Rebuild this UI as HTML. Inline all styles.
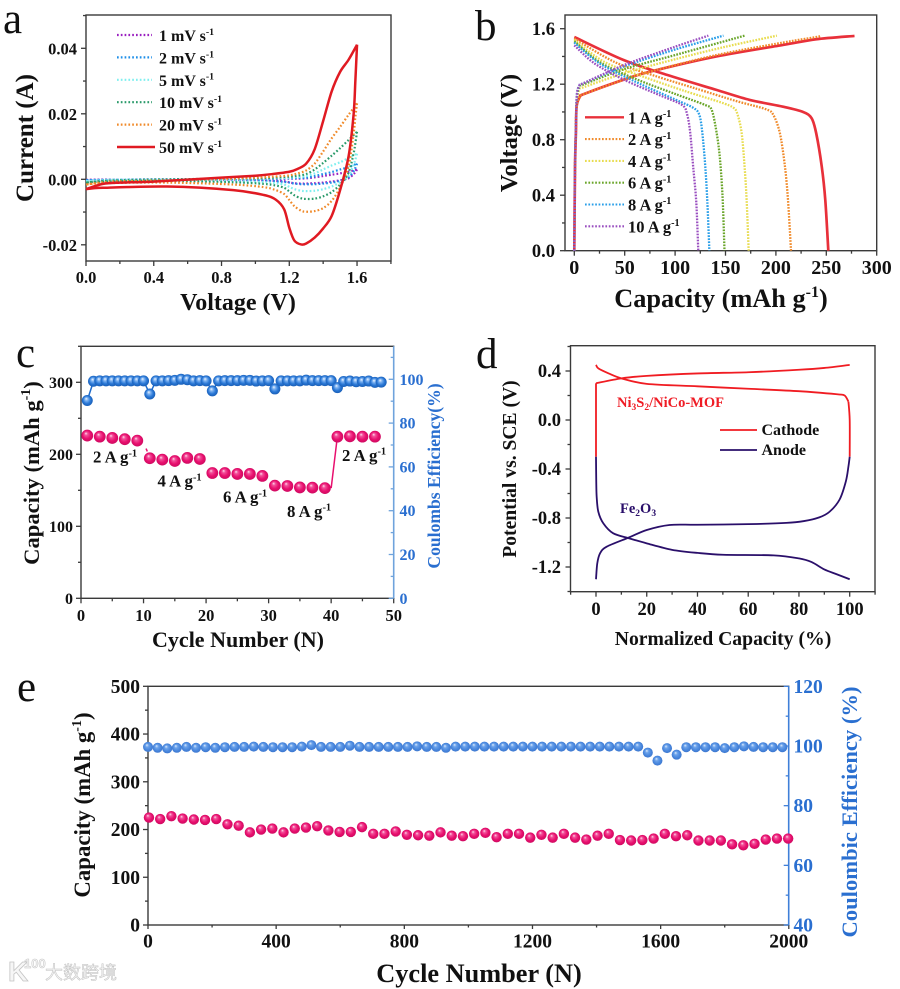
<!DOCTYPE html>
<html lang="en">
<head>
<meta charset="utf-8">
<title>Electrochemical performance figure</title>
<style>
html,body{margin:0;padding:0;background:#fff;}
svg{display:block;filter:blur(.35px);}
text{font-family:"Liberation Serif","Noto Serif CJK SC",serif;font-weight:bold;fill:#111;}
.letter{font-weight:normal;font-size:43px;}
.blue{fill:#2a6fd0;}
</style>
</head>
<body>
<svg id="figure" xmlns="http://www.w3.org/2000/svg" width="900" height="989" viewBox="0 0 900 989">
<defs>
<radialGradient id="pinkSphere" cx="50%" cy="50%" r="55%" fx="38%" fy="30%">
<stop offset="0" stop-color="#ffe3ee"/><stop offset=".25" stop-color="#f2509a"/><stop offset=".62" stop-color="#e80f6e"/><stop offset="1" stop-color="#c90a5e"/>
</radialGradient>
<radialGradient id="blueSphereC" cx="50%" cy="50%" r="55%" fx="40%" fy="32%">
<stop offset="0" stop-color="#f0f7ff"/><stop offset=".28" stop-color="#7ab0f0"/><stop offset=".62" stop-color="#2a78d6"/><stop offset="1" stop-color="#1659b0"/>
</radialGradient>
<radialGradient id="blueSphereE" cx="50%" cy="50%" r="55%" fx="38%" fy="30%">
<stop offset="0" stop-color="#e0edfd"/><stop offset=".3" stop-color="#6ba2ea"/><stop offset=".65" stop-color="#4a88de"/><stop offset="1" stop-color="#3a74cc"/>
</radialGradient>
</defs>

<g id="panel-a">
<text class="letter" x="3" y="33">a</text>
<text x="238" y="310" font-size="24" text-anchor="middle">Voltage (V)</text>
<text transform="translate(33,138) rotate(-90)" font-size="25" text-anchor="middle">Current (A)</text>
</g>

<g id="panel-b">
<text class="letter" x="475" y="40">b</text>
<text x="721" y="307" font-size="26.3" text-anchor="middle">Capacity (mAh g<tspan dy="-10" font-size="16">-1</tspan><tspan dy="10">)</tspan></text>
<text transform="translate(517,133) rotate(-90)" font-size="24.5" text-anchor="middle">Voltage (V)</text>
</g>

<g id="panel-c">
<text class="letter" x="16" y="367">c</text>
<text x="238" y="647" font-size="22" text-anchor="middle">Cycle Number (N)</text>
<text transform="translate(39,473) rotate(-90)" font-size="22.6" text-anchor="middle">Capacity (mAh g<tspan dy="-9" font-size="14">-1</tspan><tspan dy="9">)</tspan></text>
<text class="blue" transform="translate(440,476) rotate(-90)" font-size="17.6" text-anchor="middle">Coulombs Efficiency(%)</text>
</g>

<g id="panel-d">
<text class="letter" x="476" y="368">d</text>
<text x="723" y="645" font-size="19.7" text-anchor="middle">Normalized Capacity (%)</text>
<text transform="translate(516,469) rotate(-90)" font-size="19.6" text-anchor="middle">Potential vs. SCE (V)</text>
<text x="617" y="407" font-size="14.5" style="fill:#ef1c25">Ni<tspan dy="3" font-size="9.5">3</tspan><tspan dy="-3">S</tspan><tspan dy="3" font-size="9.5">2</tspan><tspan dy="-3">/NiCo-MOF</tspan></text>
<text x="620" y="513" font-size="14.5" style="fill:#2a0f6a">Fe<tspan dy="3" font-size="9.5">2</tspan><tspan dy="-3">O</tspan><tspan dy="3" font-size="9.5">3</tspan></text>
</g>

<g id="panel-e">
<text class="letter" x="17" y="701">e</text>
<text x="479" y="982" font-size="26.3" text-anchor="middle">Cycle Number (N)</text>
<text transform="translate(90,805) rotate(-90)" font-size="22.8" text-anchor="middle">Capacity (mAh g<tspan dy="-9" font-size="14">-1</tspan><tspan dy="9">)</tspan></text>
<text class="blue" transform="translate(857,812) rotate(-90)" font-size="22.6" text-anchor="middle">Coulombic Efficiency (%)</text>
</g>

<g id="watermark" opacity=".8">
<text x="8" y="981" font-size="28" style="fill:#f4f4f4;stroke:#b5b5b5;stroke-width:.8;font-family:'Liberation Sans',sans-serif">K</text>
<text x="24" y="968" font-size="13" style="fill:#f4f4f4;stroke:#b5b5b5;stroke-width:.5;font-family:'Liberation Sans',sans-serif">100</text>
<text x="45" y="979" font-size="18" style="fill:#f2f2f2;stroke:#b0b0b0;stroke-width:.5;font-weight:normal;font-family:'Noto Sans CJK SC',sans-serif">大数跨境</text>
</g>
</svg>

<script>
/* ---------- Panel a data ---------- */
const cvLabels = ['1 mV s', '2 mV s', '5 mV s', '10 mV s', '20 mV s', '50 mV s'];
const cvForwardV = [0, .1, .2, .4, .8, 1, 1.1, 1.2, 1.25, 1.3, 1.35, 1.4, 1.45, 1.5, 1.55, 1.6];
const cvBackwardV = [1.6, 1.59, 1.58, 1.55, 1.5, 1.45, 1.4, 1.35, 1.3, 1.27, 1.23, 1.2, 1.17, 1.12, 1.05, .87, .48, .1, 0];
const cv1Forward = [-.0002, -.0001, -.0001, 0, 0, .0001, .0001, .0002, .0002, .0003, .0006, .001, .0014, .0018, .0023, .003];
const cv1Backward = [.003, .0022, .0016, .0003, -.0003, -.0007, -.001, -.0012, -.0013, -.0013, -.0012, -.0009, -.0006, -.0005, -.0003, -.0002, -.0001, -.0001, -.0002];
const cv2Forward = [-.0003, -.0002, -.0001, 0, .0001, .0001, .0002, .0003, .0004, .0005, .001, .0016, .0022, .003, .0037, .0048];
const cv2Backward = [.0048, .0035, .0025, .0006, -.0005, -.001, -.0013, -.0015, -.0015, -.0015, -.0013, -.001, -.0008, -.0006, -.0004, -.0003, -.0002, -.0002, -.0003];
const cv5Forward = [-.0006, -.0003, -.0001, 0, .0001, .0002, .0003, .0005, .0007, .001, .0018, .003, .0042, .0052, .0065, .0078];
const cv5Backward = [.0078, .006, .0045, .0012, -.0009, -.0022, -.003, -.0035, -.0036, -.0035, -.003, -.0023, -.0016, -.0012, -.0009, -.0006, -.0003, -.0004, -.0006];
const cv10Forward = [-.001, -.0005, -.0003, -.0001, .0002, .0003, .0005, .0008, .0011, .0016, .003, .005, .0072, .0095, .012, .0145];
const cv10Backward = [.0145, .011, .008, .002, -.0016, -.0039, -.0052, -.0059, -.006, -.0058, -.0049, -.0037, -.0026, -.0019, -.0014, -.0009, -.0005, -.0007, -.001];
const cv20Forward = [-.0016, -.0009, -.0006, -.0004, .0001, .0005, .0008, .0012, .0018, .0027, .0048, .0085, .0125, .016, .0197, .0232];
const cv20Backward = [.0232, .019, .014, .004, -.0025, -.0066, -.0088, -.0097, -.0099, -.0096, -.0082, -.0063, -.0045, -.0033, -.0024, -.0016, -.001, -.0012, -.0016];
const cv50Forward = [-.003, -.0014, -.001, -.0007, .0005, .0011, .0016, .0023, .0032, .0048, .0092, .0178, .0268, .0328, .0365, .0411];
const cv50Backward = [.0411, .03, .02, .007, -.0033, -.0112, -.015, -.0178, -.0196, -.0199, -.0187, -.0148, -.0092, -.0062, -.0048, -.0033, -.0022, -.0026, -.003];
const aXTicks = [0, .4, .8, 1.2, 1.6];
const aXLabels = ['0.0', '0.4', '0.8', '1.2', '1.6'];
const aXMinor = [.2, .6, 1, 1.4, 1.8];
const aYTicks = [-.02, 0, .02, .04];
const aYLabels = ['-0.02', '0.00', '0.02', '0.04'];
const aYMinor = [-.01, .01, .03, .05];

/* ---------- Panel b data ---------- */
const gcdLabels = ['1 A g', '2 A g', '4 A g', '6 A g', '8 A g', '10 A g'];
const charge1Cap = [0, .7, 1.6, 2.3, 5.6, 10, 50, 75, 141, 207, 240, 278];
const charge1V = [0, .6, .85, 1.04, 1.11, 1.13, 1.235, 1.29, 1.4, 1.483, 1.524, 1.548];
const discharge1Cap = [0, 48.6, 92, 141, 174, 207, 227, 235.5, 240, 245.5, 249, 252];
const discharge1V = [1.54, 1.375, 1.267, 1.159, 1.087, 1.038, 1, .954, .846, .606, .365, 0];
const charge2Cap = [0, .7, 1.6, 2.3, 5.6, 10, 50, 75, 141, 207, 240, 245];
const charge2V = [0, .6, .85, 1.04, 1.11, 1.13, 1.235, 1.29, 1.41, 1.5, 1.54, 1.55];
const discharge2Cap = [0, 40, 80, 120, 160, 190, 197.5, 204, 209, 212, 215];
const discharge2V = [1.53, 1.36, 1.26, 1.17, 1.08, 1.02, .978, .846, .606, .365, 0];
const charge4Cap = [0, .7, 1.6, 2.5, 5, 10, 50, 100, 150, 201];
const charge4V = [0, .6, .9, 1.08, 1.16, 1.18, 1.28, 1.38, 1.47, 1.55];
const discharge4Cap = [0, 30, 70, 110, 145, 158, 162, 166, 169, 171, 173];
const discharge4V = [1.52, 1.36, 1.25, 1.15, 1.07, 1.03, .98, .85, .6, .36, 0];
const charge6Cap = [0, .7, 1.6, 2.5, 5, 10, 50, 100, 169];
const charge6V = [0, .6, .9, 1.1, 1.18, 1.2, 1.31, 1.41, 1.55];
const discharge6Cap = [0, 25, 60, 100, 130, 136, 140, 144, 147, 149];
const discharge6V = [1.51, 1.36, 1.24, 1.13, 1.05, 1.02, .9, .7, .4, 0];
const charge8Cap = [0, .7, 1.6, 2.5, 5, 10, 50, 100, 148];
const charge8V = [0, .6, .9, 1.12, 1.19, 1.21, 1.33, 1.45, 1.55];
const discharge8Cap = [0, 25, 60, 100, 118, 124, 127, 130, 132, 134];
const discharge8V = [1.5, 1.35, 1.22, 1.09, 1.03, .98, .85, .6, .35, 0];
const charge10Cap = [0, .7, 1.6, 2.5, 5, 10, 50, 100, 133];
const charge10V = [0, .6, .9, 1.12, 1.19, 1.21, 1.34, 1.47, 1.55];
const discharge10Cap = [0, 20, 50, 85, 107, 112, 115, 118, 121, 123];
const discharge10V = [1.48, 1.35, 1.23, 1.12, 1.05, .98, .85, .6, .35, 0];
const bXTicks = [0, 50, 100, 150, 200, 250, 300];
const bXLabels = ['0', '50', '100', '150', '200', '250', '300'];
const bXMinor = [25, 75, 125, 175, 225, 275];
const bYTicks = [0, .4, .8, 1.2, 1.6];
const bYLabels = ['0.0', '0.4', '0.8', '1.2', '1.6'];
const bYMinor = [.2, .6, 1, 1.4];

/* ---------- Panel c data ---------- */
const rateCycles = [1, 3, 5, 7, 9, 11, 13, 15, 17, 19, 21, 23, 25, 27, 29, 31, 33, 35, 37, 39, 41, 43, 45, 47];
const rateCapacity = [226, 224.5, 222.7, 221, 219, 194.5, 192.6, 190.7, 195, 193.5, 174, 174, 172.7, 172.7, 170, 156.5, 156, 154, 153.7, 153, 224.5, 225, 224.5, 224.5];
const effCycles = [1, 2, 3, 4, 5, 6, 7, 8, 9, 10, 11, 12, 13, 14, 15, 16, 17, 18, 19, 20, 21, 22, 23, 24, 25, 26, 27, 28, 29, 30, 31, 32, 33, 34, 35, 36, 37, 38, 39, 40, 41, 42, 43, 44, 45, 46, 47, 48];
const effValues = [90.3, 99.1, 99.3, 99.3, 99.3, 99.3, 99.3, 99.3, 99.3, 99.3, 93.3, 99.3, 99.3, 99.4, 99.5, 100, 99.8, 99.3, 99.4, 99.3, 94.7, 99.3, 99.4, 99.4, 99.4, 99.5, 99.5, 99.2, 99.3, 99.4, 95.6, 99.3, 99.3, 99.3, 99.3, 99.6, 99.4, 99.4, 99.4, 99.4, 96.2, 99, 99.2, 98.9, 99, 99.2, 98.6, 98.7];
const jumpCycles = [40, 41];
const jumpCapacity = [153, 225];
const stubCycles = [10.4, 10.6];
const stubCapacity = [208, 204];
const cXTicks = [0, 10, 20, 30, 40, 50];
const cXLabels = ['0', '10', '20', '30', '40', '50'];
const cXMinor = [5, 15, 25, 35, 45];
const cLeftTicks = [0, 100, 200, 300];
const cLeftLabels = ['0', '100', '200', '300'];
const cLeftMinor = [50, 150, 250, 350];
const cRightTicks = [0, 20, 40, 60, 80, 100];
const cRightLabels = ['0', '20', '40', '60', '80', '100'];
const cRightMinor = [10, 30, 50, 70, 90, 110];
const rateAnnotations = ['2 A g', '4 A g', '6 A g', '8 A g', '2 A g'];

/* ---------- Panel d data ---------- */
const cathodeRiseCap = [0, 0];
const cathodeRiseV = [-.3, .3];
const cathodeChargeCap = [0, 10, 20, 40, 60, 80, 90, 100];
const cathodeChargeV = [.3, .34, .36, .38, .39, .41, .425, .45];
const cathodeDischargeCap = [0, 1, 5, 10, 20, 40, 60, 80, 95, 98, 99.5];
const cathodeDischargeV = [.45, .42, .38, .34, .295, .275, .255, .235, .21, .2, .15];
const cathodeFallCap = [99.5, 100, 100];
const cathodeFallV = [.15, 0, -.3];
const anodeDownCap = [0, .1, .26, .9, 2.9, 6.8, 13.1, 20, 30, 40, 50, 70, 80, 85, 90, 95, 100];
const anodeDownV = [-.3, -.5, -.626, -.748, -.844, -.925, -.966, -1.007, -1.06, -1.085, -1.1, -1.105, -1.13, -1.16, -1.22, -1.26, -1.3];
const anodeUpCap = [0, .5, 1.6, 4.2, 13.1, 20, 29, 40, 60, 75, 82, 88, 92, 96, 98.5, 99.5, 100];
const anodeUpV = [-1.3, -1.17, -1.088, -1.034, -.958, -.898, -.857, -.855, -.85, -.84, -.825, -.795, -.75, -.65, -.5, -.38, -.3];
const dLegendLabels = ['Cathode', 'Anode'];
const dXTicks = [0, 20, 40, 60, 80, 100];
const dXLabels = ['0', '20', '40', '60', '80', '100'];
const dXMinor = [-10, 10, 30, 50, 70, 90, 110];
const dYTicks = [.4, 0, -.4, -.8, -1.2];
const dYLabels = ['0.4', '0.0', '-0.4', '-0.8', '-1.2'];
const dYMinor = [.6, .2, -.2, -.6, -1, -1.4];

/* ---------- Panel e data ---------- */
const longCapCycles = [3, 38, 73, 108, 143, 178, 213, 248, 283, 318, 353, 388, 423, 458, 493, 528, 563, 598, 633, 668, 703, 738, 773, 808, 843, 878, 913, 948, 983, 1018, 1053, 1088, 1123, 1158, 1193, 1228, 1263, 1298, 1333, 1368, 1403, 1438, 1473, 1508, 1543, 1578, 1613, 1648, 1683, 1718, 1753, 1788, 1823, 1858, 1893, 1928, 1963, 1998];
const longCapacity = [225, 222, 228, 223, 221, 220, 222, 211, 208, 194, 200, 202, 194, 202, 204, 207, 198, 195, 195, 205, 191, 191, 196, 189, 188, 187, 194, 187, 186, 191, 193, 184, 191, 191, 183, 189, 183, 191, 183, 179, 187, 191, 178, 177, 178, 181, 191, 186, 188, 177, 177, 177, 169, 167, 170, 179, 181, 181];
const longEffCycles = [0, 30, 60, 90, 120, 150, 180, 210, 240, 270, 300, 330, 360, 390, 420, 450, 480, 510, 540, 570, 600, 630, 660, 690, 720, 750, 780, 810, 840, 870, 900, 930, 960, 990, 1020, 1050, 1080, 1110, 1140, 1170, 1200, 1230, 1260, 1290, 1320, 1350, 1380, 1410, 1440, 1470, 1500, 1530, 1560, 1590, 1620, 1650, 1680, 1710, 1740, 1770, 1800, 1830, 1860, 1890, 1920, 1950, 1980];
const longEfficiency = [99.7, 99.4, 99.2, 99.4, 99.7, 99.4, 99.6, 99.4, 99.6, 99.7, 99.7, 99.8, 99.7, 99.6, 99.6, 99.6, 99.8, 100.3, 99.7, 99.7, 99.7, 100.1, 99.7, 99.7, 99.7, 99.7, 99.7, 99.7, 99.9, 99.7, 99.7, 99.4, 99.8, 99.8, 99.8, 99.8, 99.8, 99.8, 99.8, 99.8, 99.8, 99.8, 99.8, 99.8, 99.8, 99.8, 99.8, 99.8, 99.8, 99.8, 99.8, 99.8, 97.8, 95.1, 99.3, 97.1, 99.6, 99.6, 99.6, 99.6, 99.3, 99.6, 99.9, 99.7, 99.6, 99.6, 99.6];
const eXTicks = [0, 400, 800, 1200, 1600, 2000];
const eXLabels = ['0', '400', '800', '1200', '1600', '2000'];
const eXMinor = [200, 600, 1000, 1400, 1800];
const eLeftTicks = [0, 100, 200, 300, 400, 500];
const eLeftLabels = ['0', '100', '200', '300', '400', '500'];
const eLeftMinor = [50, 150, 250, 350, 450];
const eRightTicks = [40, 60, 80, 100, 120];
const eRightLabels = ['40', '60', '80', '100', '120'];
const eRightMinor = [50, 70, 90, 110];

/* ---------- helpers ---------- */
const NS = 'http://www.w3.org/2000/svg';
function mk(tag, attrs, parent, txt) {
  const n = document.createElementNS(NS, tag);
  for (const k in attrs) n.setAttribute(k, attrs[k]);
  if (txt !== undefined) n.textContent = txt;
  parent.appendChild(n);
  return n;
}
function smoothPath(xs, ys, sx, sy) {
  const p = xs.map((x, i) => [sx(x), sy(ys[i])]);
  let d = 'M' + p[0][0].toFixed(2) + ' ' + p[0][1].toFixed(2);
  for (let i = 0; i < p.length - 1; i++) {
    const a = p[Math.max(i - 1, 0)], b = p[i], c = p[i + 1], e = p[Math.min(i + 2, p.length - 1)];
    const c1x = b[0] + (c[0] - a[0]) / 6.5, c1y = b[1] + (c[1] - a[1]) / 6.5;
    const c2x = c[0] - (e[0] - b[0]) / 6.5, c2y = c[1] - (e[1] - b[1]) / 6.5;
    d += 'C' + c1x.toFixed(2) + ' ' + c1y.toFixed(2) + ' ' + c2x.toFixed(2) + ' ' + c2y.toFixed(2) + ' ' + c[0].toFixed(2) + ' ' + c[1].toFixed(2);
  }
  return d;
}
function drawCurve(parent, xs, ys, sx, sy, color, width, dash, name) {
  const attrs = {d: smoothPath(xs, ys, sx, sy), fill: 'none', stroke: color, 'stroke-width': width, 'stroke-linejoin': 'round'};
  if (dash) attrs['stroke-dasharray'] = dash;
  const c = mk('path', attrs, parent);
  
  
  return c;
}
function drawFrame(parent, name, x0, y0, x1, y1) {
  const r = mk('rect', {x: x0, y: y0, width: x1 - x0, height: y1 - y0, fill: 'none', stroke: '#3a3a3a', 'stroke-width': 1.4}, parent);
  
  
}
function drawTicks(parent, name, axis, scale, pos, dir, vals, len, color) {
  vals.forEach(v => {
    const c = scale(v);
    const attrs = axis === 'x'
      ? {x1: c, x2: c, y1: pos, y2: pos + dir * len, stroke: color, 'stroke-width': 1.3}
      : {y1: c, y2: c, x1: pos, x2: pos + dir * len, stroke: color, 'stroke-width': 1.3};
    const t = mk('line', attrs, parent);
    
    
  });
}
function drawXLabels(parent, name, scale, base, vals, labels, size, color) {
  vals.forEach((v, i) => {
    const t = mk('text', {x: scale(v), y: base, 'font-size': size, 'text-anchor': 'middle', style: 'fill:' + color}, parent, labels[i]);
    
    
  });
}
function drawYLabels(parent, name, scale, xPos, anchor, vals, labels, size, color, dy) {
  vals.forEach((v, i) => {
    const t = mk('text', {x: xPos, y: scale(v) + dy, 'font-size': size, 'text-anchor': anchor, style: 'fill:' + color}, parent, labels[i]);
    
    
  });
}
function drawSupLabel(parent, name, x, y, size, label) {
  const t = mk('text', {x: x, y: y, 'font-size': size}, parent, label);
  const s = mk('tspan', {dy: -size * .38, 'font-size': size * .62}, t, '-1');
  
  
  return s;
}
function drawSpheres(parent, name, xs, ys, sx, sy, r, fill) {
  xs.forEach((x, i) => {
    const c = mk('circle', {cx: sx(x), cy: sy(ys[i]), r: r, fill: fill}, parent);
    
    
  });
}
const INK = '#111';
const AXIS = '#3a3a3a';

/* ---------- Panel a ---------- */
(function () {
  const g = document.getElementById('panel-a');
  const sx = v => 86 + v * 169.4;
  const sy = i => 179.3 - i * 3275;
  drawFrame(g, 'panel-a', 86, 15, 391, 261);
  drawTicks(g, 'x-major-tick', 'x', sx, 261, 1, aXTicks, 5, AXIS);
  drawTicks(g, 'x-minor-tick', 'x', sx, 261, 1, aXMinor, 3, AXIS);
  drawTicks(g, 'y-major-tick', 'y', sy, 86, -1, aYTicks, 5, AXIS);
  drawTicks(g, 'y-minor-tick', 'y', sy, 86, -1, aYMinor, 3, AXIS);
  drawXLabels(g, 'x-tick-label', sx, 283, aXTicks, aXLabels, 16.5, INK);
  drawYLabels(g, 'y-tick-label', sy, 77, 'end', aYTicks, aYLabels, 16.5, INK, 6);
  const forward = [cv1Forward, cv2Forward, cv5Forward, cv10Forward, cv20Forward, cv50Forward];
  const backward = [cv1Backward, cv2Backward, cv5Backward, cv10Backward, cv20Backward, cv50Backward];
  const colors = ['#9a1fc0', '#1f8fe8', '#7fefef', '#2a9a6a', '#f08a2a', '#e01a22'];
  forward.forEach((f, i) => {
    const solid = i === 5;
    drawCurve(g, cvForwardV, f, sx, sy, colors[i], solid ? 2.5 : 2.2, solid ? null : '1.7 2.1', 'cv-forward-sweep');
    drawCurve(g, cvBackwardV, backward[i], sx, sy, colors[i], solid ? 2.5 : 2.2, solid ? null : '1.7 2.1', 'cv-backward-sweep');
    const ly = 35 + i * 22.4;
    const l = mk('line', {x1: 117, x2: solid ? 155 : 152, y1: ly, y2: ly, stroke: colors[i], 'stroke-width': solid ? 2.4 : 2.2, 'stroke-dasharray': solid ? 'none' : '1.7 2.1'}, g);
    
    
    drawSupLabel(g, 'legend-label', 159, ly + 6, 16, cvLabels[i]);
  });
})();

/* ---------- Panel b ---------- */
(function () {
  const g = document.getElementById('panel-b');
  const sx = c => 574.3 + c * 1.008;
  const sy = v => 250.7 - v * 138.75;
  drawFrame(g, 'panel-b', 565, 15, 876.7, 250.7);
  drawTicks(g, 'x-major-tick', 'x', sx, 250.7, 1, bXTicks, 5, AXIS);
  drawTicks(g, 'x-minor-tick', 'x', sx, 250.7, 1, bXMinor, 3, AXIS);
  drawTicks(g, 'y-major-tick', 'y', sy, 565, -1, bYTicks, 5, AXIS);
  drawTicks(g, 'y-minor-tick', 'y', sy, 565, -1, bYMinor, 3, AXIS);
  drawXLabels(g, 'x-tick-label', sx, 274, bXTicks, bXLabels, 20, INK);
  drawYLabels(g, 'y-tick-label', sy, 555, 'end', bYTicks, bYLabels, 18.5, INK, 6.5);
  const colors = ['#e8303a', '#f08a2a', '#e8dc50', '#6aa52a', '#2a9fe8', '#9a4fc0'];
  const charges = [[charge1Cap, charge1V], [charge2Cap, charge2V], [charge4Cap, charge4V], [charge6Cap, charge6V], [charge8Cap, charge8V], [charge10Cap, charge10V]];
  const discharges = [[discharge1Cap, discharge1V], [discharge2Cap, discharge2V], [discharge4Cap, discharge4V], [discharge6Cap, discharge6V], [discharge8Cap, discharge8V], [discharge10Cap, discharge10V]];
  charges.forEach((c, i) => {
    const solid = i === 0;
    drawCurve(g, c[0], c[1], sx, sy, colors[i], solid ? 2.7 : 2.3, solid ? null : '1.7 1.3', 'charge-curve');
    drawCurve(g, discharges[i][0], discharges[i][1], sx, sy, colors[i], solid ? 2.7 : 2.3, solid ? null : '1.7 1.3', 'discharge-curve');
    const ly = 117.3 + i * 21.8;
    const l = mk('line', {x1: 585, x2: 624, y1: ly, y2: ly, stroke: colors[i], 'stroke-width': solid ? 2.4 : 2.1, 'stroke-dasharray': solid ? 'none' : '1.7 1.7'}, g);
    
    
    drawSupLabel(g, 'legend-label', 628, ly + 6, 16.5, gcdLabels[i]);
  });
})();

/* ---------- Panel c ---------- */
(function () {
  const g = document.getElementById('panel-c');
  const sx = n => 81 + n * 6.254;
  const syL = v => 598.3 - v * .72;
  const syR = v => 598.3 - v * 2.19;
  drawFrame(g, 'panel-c', 81, 346.3, 393.7, 598.3);
  const right = mk('line', {x1: 393.7, x2: 393.7, y1: 346.3, y2: 598.3, stroke: '#6fa3dc', 'stroke-width': 1.6}, g);
  
  
  drawTicks(g, 'x-major-tick', 'x', sx, 598.3, 1, cXTicks, 5, AXIS);
  drawTicks(g, 'x-minor-tick', 'x', sx, 598.3, 1, cXMinor, 3, AXIS);
  drawTicks(g, 'left-major-tick', 'y', syL, 81, -1, cLeftTicks, 5, AXIS);
  drawTicks(g, 'left-minor-tick', 'y', syL, 81, -1, cLeftMinor, 3, AXIS);
  drawTicks(g, 'right-major-tick', 'y', syR, 393.7, -1, cRightTicks, 5, '#6fa3dc');
  drawTicks(g, 'right-minor-tick', 'y', syR, 393.7, -1, cRightMinor, 3, '#6fa3dc');
  drawXLabels(g, 'x-tick-label', sx, 621, cXTicks, cXLabels, 16.5, INK);
  drawYLabels(g, 'left-tick-label', syL, 73, 'end', cLeftTicks, cLeftLabels, 16, INK, 5.5);
  drawYLabels(g, 'right-tick-label', syR, 399.5, 'start', cRightTicks, cRightLabels, 16, '#2a6fd0', 5.5);
  const pts = effCycles.map((c, i) => sx(c).toFixed(2) + ',' + syR(effValues[i]).toFixed(2)).join(' ');
  const pl = mk('polyline', {points: pts, fill: 'none', stroke: '#1f6ccc', 'stroke-width': 1.5}, g);
  
  
  drawSpheres(g, 'efficiency-point', effCycles, effValues, sx, syR, 5.5, 'url(#blueSphereC)');
  drawCurve(g, jumpCycles, jumpCapacity, sx, syL, '#e80f6e', 1.5, null, 'capacity-recovery-line');
  drawCurve(g, stubCycles, stubCapacity, sx, syL, '#e80f6e', 1.5, null, 'capacity-step-line');
  drawSpheres(g, 'capacity-point', rateCycles, rateCapacity, sx, syL, 5.9, 'url(#pinkSphere)');
  const ax = [93, 157.5, 223, 287, 342];
  const ay = [462.7, 486.7, 502.7, 517, 461];
  rateAnnotations.forEach((label, i) => {
    drawSupLabel(g, 'rate-annotation', ax[i], ay[i], 16.8, label);
  });
})();

/* ---------- Panel d ---------- */
(function () {
  const g = document.getElementById('panel-d');
  const sx = c => 596 + c * 2.537;
  const sy = v => 420 - v * 122.5;
  drawFrame(g, 'panel-d', 570.5, 345.7, 875, 591.7);
  drawTicks(g, 'x-major-tick', 'x', sx, 591.7, 1, dXTicks, 5, AXIS);
  drawTicks(g, 'x-minor-tick', 'x', sx, 591.7, 1, dXMinor, 3, AXIS);
  drawTicks(g, 'y-major-tick', 'y', sy, 570.5, -1, dYTicks, 5, AXIS);
  drawTicks(g, 'y-minor-tick', 'y', sy, 570.5, -1, dYMinor, 3, AXIS);
  drawXLabels(g, 'x-tick-label', sx, 615, dXTicks, dXLabels, 18.5, INK);
  drawYLabels(g, 'y-tick-label', sy, 561, 'end', dYTicks, dYLabels, 18.5, INK, 6);
  const red = '#f01c22', navy = '#2a0f6a';
  drawCurve(g, cathodeRiseCap, cathodeRiseV, sx, sy, red, 1.8, null, 'cathode-rise-segment');
  drawCurve(g, cathodeChargeCap, cathodeChargeV, sx, sy, red, 1.8, null, 'cathode-charge-curve');
  drawCurve(g, cathodeDischargeCap, cathodeDischargeV, sx, sy, red, 1.8, null, 'cathode-discharge-curve');
  drawCurve(g, cathodeFallCap, cathodeFallV, sx, sy, red, 1.8, null, 'cathode-fall-segment');
  drawCurve(g, anodeDownCap, anodeDownV, sx, sy, navy, 1.8, null, 'anode-charge-curve');
  drawCurve(g, anodeUpCap, anodeUpV, sx, sy, navy, 1.8, null, 'anode-discharge-curve');
  dLegendLabels.forEach((label, i) => {
    const ly = 430 + i * 20;
    const l = mk('line', {x1: 720, x2: 757, y1: ly, y2: ly, stroke: i ? navy : red, 'stroke-width': 1.8}, g);
    
    
    const t = mk('text', {x: 761.5, y: ly + 5, 'font-size': 16}, g, label);
    
    
  });
})();

/* ---------- Panel e ---------- */
(function () {
  const g = document.getElementById('panel-e');
  const sx = n => 148 + n * .3204;
  const syL = v => 925 - v * .4774;
  const syR = v => 925 - (v - 40) * 2.983;
  drawFrame(g, 'panel-e', 148, 686.3, 788.7, 925);
  const right = mk('line', {x1: 788.7, x2: 788.7, y1: 686.3, y2: 925, stroke: '#3f7fd8', 'stroke-width': 1.6}, g);
  
  
  drawTicks(g, 'x-major-tick', 'x', sx, 925, 1, eXTicks, 4, AXIS);
  drawTicks(g, 'x-minor-tick', 'x', sx, 925, 1, eXMinor, 2.5, AXIS);
  drawTicks(g, 'left-major-tick', 'y', syL, 148, -1, eLeftTicks, 5, AXIS);
  drawTicks(g, 'left-minor-tick', 'y', syL, 148, -1, eLeftMinor, 3, AXIS);
  drawTicks(g, 'right-major-tick', 'y', syR, 788.7, -1, eRightTicks, 5, '#3f7fd8');
  drawTicks(g, 'right-minor-tick', 'y', syR, 788.7, -1, eRightMinor, 3, '#3f7fd8');
  drawXLabels(g, 'x-tick-label', sx, 947.5, eXTicks, eXLabels, 19.5, INK);
  drawYLabels(g, 'left-tick-label', syL, 140, 'end', eLeftTicks, eLeftLabels, 19.5, INK, 6.5);
  drawYLabels(g, 'right-tick-label', syR, 793.5, 'start', eRightTicks, eRightLabels, 19.5, '#2a6fd0', 6.5);
  drawSpheres(g, 'efficiency-point', longEffCycles, longEfficiency, sx, syR, 5, 'url(#blueSphereE)');
  drawSpheres(g, 'capacity-point', longCapCycles, longCapacity, sx, syL, 5.2, 'url(#pinkSphere)');
})();
</script>
</body>
</html>
